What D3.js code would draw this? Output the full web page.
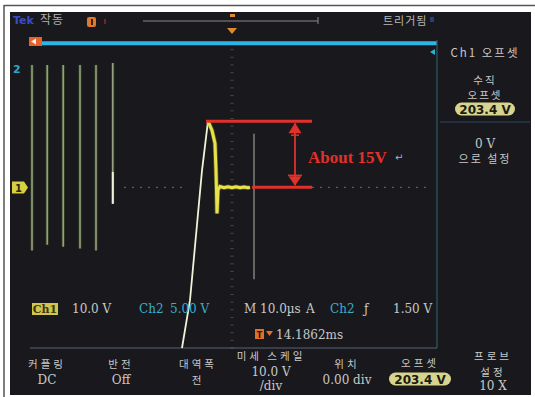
<!DOCTYPE html>
<html><head><meta charset="utf-8">
<script src="https://cdn.jsdelivr.net/npm/d3@7"></script>
<style>html,body{margin:0;padding:0;background:#fff;overflow:hidden}</style>
</head><body><svg id="c" width="535" height="397"></svg>
<script>
// ---------- data ----------
const timeDomain = [-50, 50];          // µs (10 µs/div, 10 div)
const ch1Domain = [-42, 38];           // V relative to Ch1 ground (10 V/div)
const spikeT   = [-50, -46.2, -42.2, -38, -34, -29.8];
const spikeMax = [32, 32, 32, 32, 32, 32.5];
const spikeMin = [-16.5, -15, -15.5, -16, -16.5, -4.3];
const edgeT  = [-12.5, -10.5, -7.5, -6];
const edgeV  = [-42, -29.5, 4.4, 17.3];
const settleT = [-6, -5, -4.25, -4, -3.9, -3.75, -3.5, -3, -2, -1, 0, 1, 2, 3, 4, 4.5];
const settleV = [17.3, 14.9, 11.5, 4.4, 0.3, -6.8, -0.6, 0.2, -0.1, 0.15, -0.1, 0.15, -0.1, 0.1, -0.1, 0];
const lateSpikeT = 5.5;
const lateSpikeV = [14, -24];
const ch2Level = 37.7;
const peakV = 17.3, baseV = 0;
const annotStartT = -6.5, annotBaseStartT = 5, annotEndT = 20, arrowT = 15.75;
const annotLabel = "About 15V";
const statusCh1 = ["Ch1", "10.0 V"];
const statusCh2 = ["Ch2", "5.00 V"];
const statusTime = ["M 10.0µs", "A", "Ch2", "ƒ", "1.50 V"];
const triggerTime = "14.1862ms";
const topLabels = ["Tek", "작동", "트리거됨"];
const sideLabels = ["Ch1 오프셋", "수직", "오프셋", "203.4 V", "0 V", "으로 설정"];
const menuLabels = [["커플링", "DC"], ["반전", "Off"], ["대역폭", "전"], ["미세 스케일", "10.0 V", "/div"], ["위치", "0.00 div"], ["오프셋", "203.4 V"], ["프로브", "설정", "10 X"]];

// ---------- drawing ----------
const svg = d3.select("#c");
const x = d3.scaleLinear().domain(timeDomain).range([32, 432]);
const y = d3.scaleLinear().domain(ch1Domain).range([348, 42]);
const KR = "'Noto Sans CJK KR','Noto Sans',sans-serif";
const SER = "'DejaVu Serif','Liberation Serif',serif";
const TXT = "#c8c8c8";
const CYAN = "#3aaecb";

// frame
svg.append("rect").attr("x",0).attr("y",0).attr("width",535).attr("height",397).attr("fill","#fff");
svg.append("line").attr("x1",4).attr("x2",4).attr("y1",5).attr("y2",397).attr("stroke","#555").attr("stroke-width",1.5);
svg.append("line").attr("x1",4).attr("x2",535).attr("y1",5.5).attr("y2",5.5).attr("stroke","#555").attr("stroke-width",1.5);
svg.append("rect").attr("x",10).attr("y",12).attr("width",521).attr("height",383).attr("fill","#19191d");

const g = svg.append("g");

// faint graticule center ticks
const vTicks = d3.range(ch1Domain[0], ch1Domain[1] + 0.01, 2);
g.selectAll(".vt").data(vTicks).join("line")
  .attr("x1", x(0) - 1.5).attr("x2", x(0) + 1.5)
  .attr("y1", d => y(d)).attr("y2", d => y(d))
  .attr("stroke", "#4a4a4a").attr("stroke-width", 1);
// ch1 ground persistence dots
[[ -27, -12.5 ], [ 20, 50 ]].forEach(r => {
  g.append("line").attr("x1", x(r[0])).attr("x2", x(r[1])).attr("y1", y(0)).attr("y2", y(0))
    .attr("stroke", "#77776a").attr("stroke-width", 1.2).attr("stroke-dasharray", "2,6").attr("opacity", 0.7);
});

// top bar
g.append("text").attr("x", 13).attr("y", 24).text(topLabels[0])
  .attr("font-family", "'DejaVu Sans',sans-serif").attr("font-weight", "bold").attr("font-size", 11).attr("fill", "#3c4cc0");
g.append("text").attr("x", 40).attr("y", 24).text(topLabels[1])
  .attr("font-family", KR).attr("font-size", 12).attr("letter-spacing", 1).attr("fill", "#b0b0b0");
g.append("rect").attr("x", 87).attr("y", 17).attr("width", 9).attr("height", 10).attr("rx", 2).attr("fill", "#e07a28");
g.append("rect").attr("x", 91).attr("y", 19).attr("width", 2).attr("height", 6).attr("fill", "#402010");
g.append("rect").attr("x", 104).attr("y", 19).attr("width", 2).attr("height", 5).attr("fill", "#7a2020");
g.append("line").attr("x1", 143).attr("x2", 318).attr("y1", 21).attr("y2", 21).attr("stroke", "#8a8a8a").attr("stroke-width", 1);
g.append("line").attr("x1", 318).attr("x2", 318).attr("y1", 17).attr("y2", 24).attr("stroke", "#8a8a8a").attr("stroke-width", 1);
g.append("rect").attr("x", 230).attr("y", 14).attr("width", 5).attr("height", 3).attr("fill", "#e08a30");
g.append("path").attr("d", `M${x(0)-5},28 L${x(0)+5},28 L${x(0)},34 Z`).attr("fill", "#e08a30");
g.append("text").attr("x", 383).attr("y", 25).text(topLabels[2])
  .attr("font-family", KR).attr("font-size", 11).attr("letter-spacing", 1).attr("fill", "#b8b8b8");
g.append("rect").attr("x", 430).attr("y", 17).attr("width", 4).attr("height", 5).attr("fill", "#2a3a8a");

// ch2 trace (off-screen top)
g.append("line").attr("x1", x(-48.5)).attr("x2", 437).attr("y1", y(ch2Level)).attr("y2", y(ch2Level))
  .attr("stroke", "#2cb6e8").attr("stroke-width", 4);
g.append("rect").attr("x", 29).attr("y", 37).attr("width", 13).attr("height", 9).attr("fill", "#e8602a");
g.append("path").attr("d", "M31,41.5 L36,38.5 L36,44.5 Z").attr("fill", "#f4f0e8");
// ch2 marker
g.append("text").attr("x", 13).attr("y", 73).text("2").attr("font-family", "'DejaVu Sans',sans-serif")
  .attr("font-weight", "bold").attr("font-size", 11).attr("fill", "#2ea8c8");
g.append("path").attr("d", "M430,52 L435,49 L435,55 Z").attr("fill", "#30b0d0");

// separators
g.append("line").attr("x1", 437).attr("x2", 437).attr("y1", 40).attr("y2", 348).attr("stroke", "#2e5a68").attr("stroke-width", 1.2);
g.append("line").attr("x1", 30).attr("x2", 437).attr("y1", 348).attr("y2", 348).attr("stroke", "#5a6272").attr("stroke-width", 1.2);
g.append("line").attr("x1", 440).attr("x2", 530).attr("y1", 122).attr("y2", 122).attr("stroke", "#2c4660").attr("stroke-width", 1);

// spikes
spikeT.forEach((t, i) => {
  g.append("line").attr("x1", x(t)).attr("x2", x(t)).attr("y1", y(spikeMax[i])).attr("y2", y(spikeMin[i]))
    .attr("stroke", "#6f9a2a").attr("stroke-width", 3).attr("opacity", 0.35);
  g.append("line").attr("x1", x(t)).attr("x2", x(t)).attr("y1", y(spikeMax[i])).attr("y2", y(spikeMin[i]))
    .attr("stroke", "#cfd4b8").attr("stroke-width", 1.2).attr("opacity", 0.8);
});
g.append("line").attr("x1", x(spikeT[5])).attr("x2", x(spikeT[5])).attr("y1", y(4)).attr("y2", y(-4.3))
  .attr("stroke", "#f0f0e0").attr("stroke-width", 2);

// late spike
g.append("line").attr("x1", x(lateSpikeT)).attr("x2", x(lateSpikeT)).attr("y1", y(lateSpikeV[0])).attr("y2", y(lateSpikeV[1]))
  .attr("stroke", "#b8bcb0").attr("stroke-width", 1.2).attr("opacity", 0.8);

// ch1 rising edge
const line = d3.line().x(d => x(d[0])).y(d => y(d[1]));
g.append("path").datum(edgeT.map((t, i) => [t, edgeV[i]])).attr("d", line)
  .attr("fill", "none").attr("stroke", "#f2f2d8").attr("stroke-width", 1.8);
// settle
g.append("path").datum(settleT.map((t, i) => [t, settleV[i]])).attr("d", line)
  .attr("fill", "none").attr("stroke", "#9aa828").attr("stroke-width", 4.5).attr("opacity", 0.5);
g.append("path").datum(settleT.map((t, i) => [t, settleV[i]])).attr("d", line)
  .attr("fill", "none").attr("stroke", "#eae24a").attr("stroke-width", 3);

// ch1 marker
g.append("path").attr("d", "M12,181.5 L24,181.5 L28,187.5 L24,193.5 L12,193.5 Z").attr("fill", "#d8d040");
g.append("text").attr("x", 15).attr("y", 192).text("1").attr("font-family", "'DejaVu Sans',sans-serif")
  .attr("font-weight", "bold").attr("font-size", 10).attr("fill", "#2a2a10");

// red annotation
const RED = "#e2302a";
const ax = x(arrowT), yt = y(peakV), yb = y(baseV);
g.append("line").attr("x1", x(annotStartT)).attr("x2", x(annotEndT)).attr("y1", yt).attr("y2", yt).attr("stroke", RED).attr("stroke-width", 3);
g.append("line").attr("x1", x(annotBaseStartT)).attr("x2", x(annotEndT)).attr("y1", yb).attr("y2", yb).attr("stroke", RED).attr("stroke-width", 3);
g.append("line").attr("x1", ax).attr("x2", ax).attr("y1", yt + 2).attr("y2", yb - 2).attr("stroke", RED).attr("stroke-width", 1.8);
g.append("path").attr("d", `M${ax},${yt+1.5} L${ax+6.5},${yt+12} L${ax-6.5},${yt+12} Z`).attr("fill", RED);
g.append("line").attr("x1", ax-4).attr("x2", ax+4).attr("y1", yt+14).attr("y2", yt+14).attr("stroke", RED).attr("stroke-width", 1.5);
g.append("path").attr("d", `M${ax},${yb-1.5} L${ax+6.5},${yb-11} L${ax-6.5},${yb-11} Z`).attr("fill", RED);
g.append("line").attr("x1", ax-7).attr("x2", ax+7).attr("y1", yb-12).attr("y2", yb-12).attr("stroke", RED).attr("stroke-width", 1.5);
g.append("text").attr("x", 308).attr("y", 163).text(annotLabel)
  .attr("font-family", "'Liberation Serif','DejaVu Serif',serif").attr("font-weight", "bold").attr("font-size", 17).attr("fill", RED);
g.append("text").attr("x", 395).attr("y", 161).text("↵")
  .attr("font-family", "'DejaVu Sans',sans-serif").attr("font-size", 10).attr("fill", "#a8b0c8");

// status readout
g.append("rect").attr("x", 32).attr("y", 303).attr("width", 26).attr("height", 12).attr("fill", "#cfc64a");
g.append("text").attr("x", 45).attr("y", 313).attr("text-anchor", "middle").text(statusCh1[0])
  .attr("font-family", SER).attr("font-weight", "bold").attr("font-size", 11).attr("fill", "#3a3814");
const st = (tx, xx, yy, col, anchor) => g.append("text").attr("x", xx).attr("y", yy).text(tx)
  .attr("font-family", SER).attr("font-size", 12).attr("fill", col).attr("text-anchor", anchor || "start");
st(statusCh1[1], 72, 313, TXT);
st(statusCh2[0], 139, 313, CYAN);
st(statusCh2[1], 170, 313, CYAN);
st(statusTime[0], 244, 313, TXT);
st(statusTime[1], 306, 313, TXT);
st(statusTime[2], 330, 313, CYAN);
st(statusTime[3], 364, 313, TXT);
st(statusTime[4], 393, 313, TXT);
g.append("rect").attr("x", 255).attr("y", 329).attr("width", 9).attr("height", 10).attr("fill", "#e0702a");
g.append("text").attr("x", 259.5).attr("y", 337.5).attr("text-anchor", "middle").text("T")
  .attr("font-family", "'DejaVu Sans',sans-serif").attr("font-weight", "bold").attr("font-size", 8).attr("fill", "#2a1408");
g.append("path").attr("d", "M266,331 L273,331 L269.5,336 Z").attr("fill", "#e0702a");
st(triggerTime, 276, 339, TXT);

// side menu
const sm = (tx, yy, size) => g.append("text").attr("x", 485).attr("y", yy).attr("text-anchor", "middle").text(tx)
  .attr("font-family", KR).attr("font-size", size || 11).attr("letter-spacing", 2).attr("fill", TXT);
sm(sideLabels[0], 57, 11.5);
sm(sideLabels[1], 84, 10.5);
sm(sideLabels[2], 99, 10.5);
const pill = (cx, cy, w, tx) => {
  g.append("rect").attr("x", cx - w / 2).attr("y", cy - 6.5).attr("width", w).attr("height", 13).attr("rx", 6.5).attr("fill", "#d6d48e");
  g.append("text").attr("x", cx).attr("y", cy + 4.5).attr("text-anchor", "middle").text(tx)
    .attr("font-family", "'DejaVu Sans',sans-serif").attr("font-weight", "bold").attr("font-size", 12).attr("fill", "#1a1a10");
};
pill(485, 109, 60, sideLabels[3]);
g.append("text").attr("x", 485).attr("y", 148).attr("text-anchor", "middle").text(sideLabels[4])
  .attr("font-family", SER).attr("font-size", 12).attr("fill", TXT);
sm(sideLabels[5], 163, 11);

// bottom menu
const colX = [47, 121, 198, 271, 347, 420, 493];
menuLabels.forEach((lab, i) => {
  const ys = lab.length === 3 ? [360, 375.5, 390] : (i === 5 ? [367, 383] : [368, 384]);
  lab.forEach((tx, j) => {
    if (i === 5 && j === 1) { pill(colX[i], 379, 62, tx); return; }
    const kr = /[\uac00-\ud7a3]/.test(tx);
    g.append("text").attr("x", colX[i]).attr("y", ys[j]).attr("text-anchor", "middle").text(tx)
      .attr("font-family", kr ? KR : SER).attr("font-size", kr ? 10.5 : 12)
      .attr("letter-spacing", kr ? 3 : 0).attr("fill", TXT);
  });
});
</script></body></html>
